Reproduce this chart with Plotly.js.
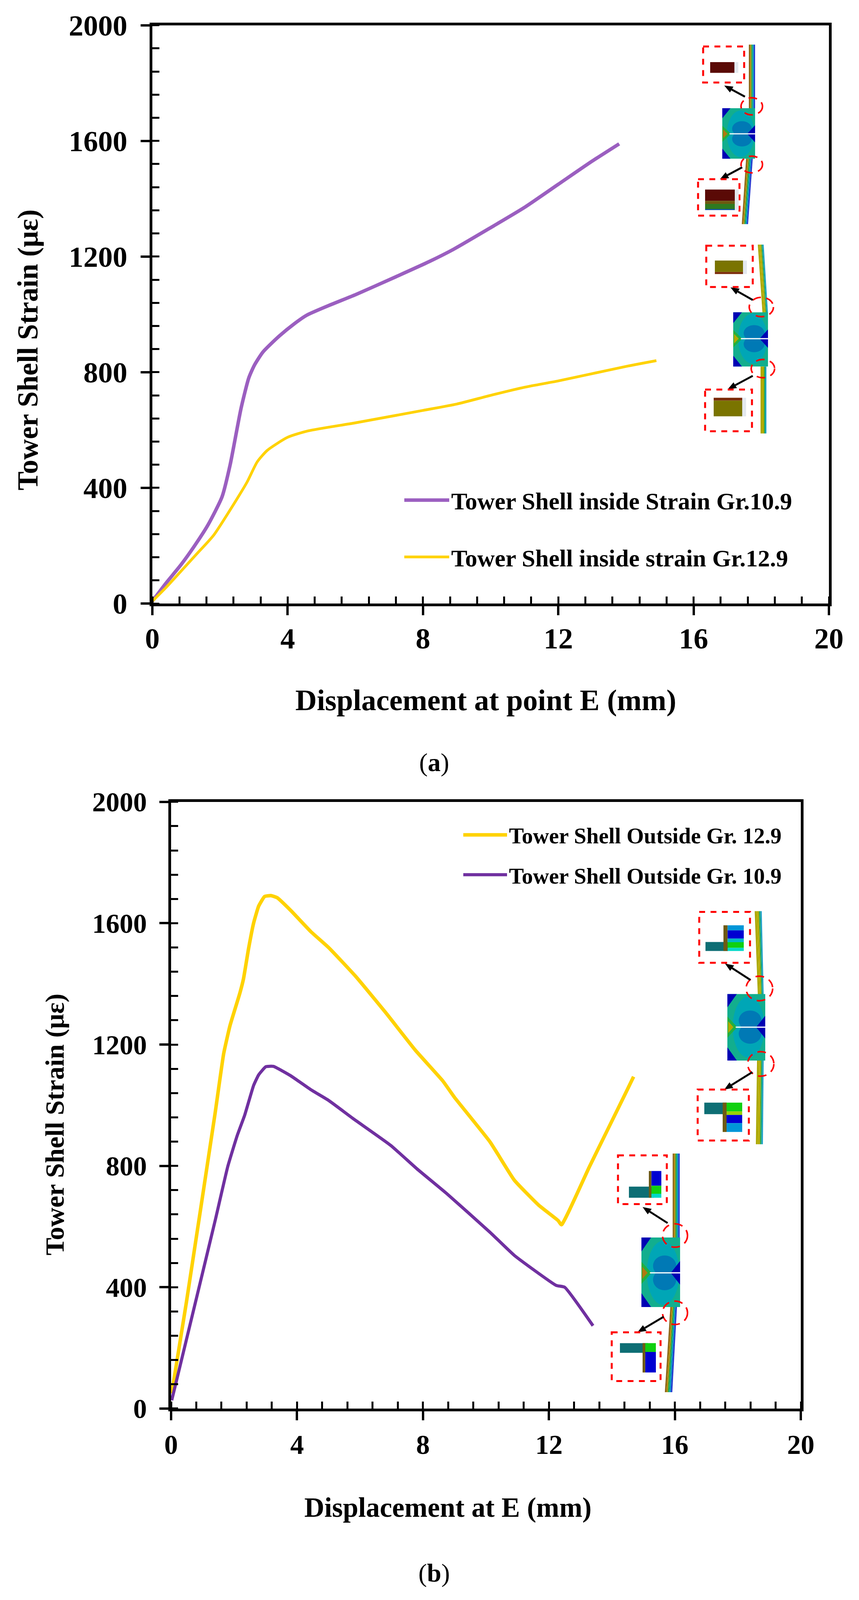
<!DOCTYPE html>
<html>
<head>
<meta charset="utf-8">
<script src="https://cdn.plot.ly/plotly-3.0.1.min.js"></script>
<style>
body { margin: 0; background: #fff; overflow: hidden; }
#chart { width: 2199px; }
</style>
</head>
<body>
<div id="chart"></div>
<script>
// panel (a): tower shell inside strain
let insideX109 = [0, 0.4, 0.84, 1.25, 1.65, 2.06, 2.3, 2.62, 2.85, 3.02, 3.27, 3.75, 4.2, 4.56, 5.2, 6.02, 7.1, 8.19, 8.9, 10, 11, 12, 13, 13.8];
let insideY109 = [8, 70, 133, 200, 273, 369, 480, 674, 780, 825, 870, 925, 968, 997, 1030, 1069, 1125, 1183, 1225, 1300, 1370, 1450, 1530, 1590];
let insideX129 = [0, 0.4, 0.84, 1.3, 1.81, 2.46, 2.8, 3.1, 3.4, 4, 4.6, 6, 8, 9, 10, 11, 12, 13, 14, 14.9];
let insideY129 = [8, 55, 111, 170, 236, 354, 420, 490, 530, 575, 597, 625, 668, 690, 720, 748, 770, 795, 820, 840];

// panel (b): tower shell outside strain
let outsideX129 = [0.02, 0.49, 1.39, 1.67, 1.87, 2.18, 2.3, 2.46, 2.62, 2.78, 2.97, 3.17, 3.37, 3.8, 4.44, 5, 5.86, 6.81, 7.76, 8.63, 9, 10.13, 10.9, 11.67, 12.29, 12.4, 13.29, 14.39, 14.69];
let outsideY129 = [50, 353, 968, 1170, 1262, 1368, 1417, 1516, 1600, 1656, 1688, 1691, 1684, 1642, 1572, 1520, 1425, 1306, 1181, 1080, 1026, 879, 753, 671, 620, 606, 798, 1030, 1094];
let outsideX109 = [0.02, 0.78, 1.4, 1.8, 2.1, 2.34, 2.62, 2.78, 3.01, 3.25, 3.8, 4.44, 5, 5.78, 6.97, 7.8, 8.75, 10.13, 10.9, 12.23, 12.5, 13.4];
let outsideY109 = [27, 353, 620, 798, 900, 968, 1065, 1100, 1127, 1128, 1097, 1051, 1016, 956, 868, 791, 709, 581, 505, 406, 400, 273];

let xTickVals = [0, 4, 8, 12, 16, 20];
let yTickVals = [0, 400, 800, 1200, 1600, 2000];

// W, H are the figure's own size; the page may be shorter, so everything goes by fractions of it
let W = 2199, H = 4304;
let pageHeight = Math.min(H, window.innerHeight || H);
let serif = '"Liberation Serif", "Times New Roman", serif';
let purpleA = '#9B5FC0', purpleB = '#7030A0', gold = '#FFD200';

function px(v) { return v / W; }
function py(v) { return 1 - v / H; }

// inset pictures
let shapes = [];

function poly(pts, fill) {
    let d = pts.map((p, i) => (i ? 'L' : 'M') + px(p[0]) + ',' + py(p[1])).join(' ') + ' Z';
    shapes.push({type: 'path', xref: 'paper', yref: 'paper', path: d, fillcolor: fill, line: {width: 0}, layer: 'above'});
}
function box(x0, y0, x1, y1, fill) {
    poly([[x0, y0], [x1, y0], [x1, y1], [x0, y1]], fill);
}
function oval(cx, cy, rx, ry, fill) {
    shapes.push({type: 'circle', xref: 'paper', yref: 'paper', x0: px(cx - rx), x1: px(cx + rx), y0: py(cy - ry), y1: py(cy + ry),
        fillcolor: fill, line: {width: 0}, layer: 'above'});
}
function dashBox(x0, y0, x1, y1) {
    shapes.push({type: 'rect', xref: 'paper', yref: 'paper', x0: px(x0), x1: px(x1), y0: py(y0), y1: py(y1),
        line: {color: '#FF0000', width: 5, dash: '15px,14px'}, layer: 'above'});
}
function dashOval(x0, y0, x1, y1) {
    shapes.push({type: 'circle', xref: 'paper', yref: 'paper', x0: px(x0), x1: px(x1), y0: py(y0), y1: py(y1),
        line: {color: '#FF0000', width: 4, dash: '22px,14px'}, layer: 'above'});
}
function arrow(x0, y0, x1, y1) {
    let a = Math.atan2(y1 - y0, x1 - x0), c = Math.cos(a), s = Math.sin(a);
    let bx = x1 - 22 * c, by = y1 - 22 * s;
    shapes.push({type: 'line', xref: 'paper', yref: 'paper', x0: px(x0), x1: px(bx), y0: py(y0), y1: py(by),
        line: {color: '#000', width: 5}, layer: 'above'});
    poly([[x1, y1], [bx - 9 * s, by + 9 * c], [bx + 9 * s, by - 9 * c]], '#000');
}
function tower(xt0, xt1, yt, xb0, xb1, yb, colors) {
    let n = colors.length;
    colors.forEach((col, i) => {
        poly([[xt0 + (xt1 - xt0) * i / n, yt], [xt0 + (xt1 - xt0) * (i + 1) / n, yt],
              [xb0 + (xb1 - xb0) * (i + 1) / n, yb], [xb0 + (xb1 - xb0) * i / n, yb]], col);
    });
}
function flange(x0, x1, y0, mid, y1, hot) {
    let w = x1 - x0;
    box(x0, y0, x1, y1, '#12AE8E');
    oval(x0 + 0.56 * w, mid, 0.42 * w, 0.46 * (y1 - y0), '#00A6B6');
    oval(x0 + 0.6 * w, mid - 0.1 * (y1 - y0), 0.3 * w, 0.15 * (y1 - y0), '#0079B5');
    oval(x0 + 0.6 * w, mid + 0.1 * (y1 - y0), 0.3 * w, 0.15 * (y1 - y0), '#0079B5');
    poly([[x0, y0], [x0 + 0.25 * w, y0], [x0, y0 + 0.2 * (y1 - y0)]], '#0000B4');
    poly([[x0, y1], [x0 + 0.25 * w, y1], [x0, y1 - 0.2 * (y1 - y0)]], '#0000B4');
    poly([[x1, mid], [x1, mid - 0.17 * (y1 - y0)], [x1 - 0.24 * w, mid]], '#0000B4');
    poly([[x1, mid], [x1, mid + 0.17 * (y1 - y0)], [x1 - 0.24 * w, mid]], '#0000B4');
    poly([[x0, mid - 0.16 * (y1 - y0)], [x0 + 0.26 * w, mid], [x0, mid + 0.16 * (y1 - y0)]], '#22B040');
    poly([[x0 + 2, mid - 0.09 * (y1 - y0)], [x0 + 0.16 * w, mid], [x0 + 2, mid + 0.09 * (y1 - y0)]], hot);
    box(x0 + 0.22 * w, mid - 1.5, x1, mid + 1.5, '#FFFFFF');
}
function barPiece(x0, y0, x1, y1, bands) {
    let h = y1 - y0, at = y0;
    bands.forEach(b => {
        box(x0, at, x1, at + b[1] * h, b[0]);
        at += b[1] * h;
    });
    box(x1, y0, x1 + 10, y1, '#E3E8EE');
}
function lPiece(hx0, hy0, hx1, hy1, vx0, vy0, vx1, vy1, bands) {
    box(hx0, hy0, hx1, hy1, '#0E6E74');
    let h = vy1 - vy0, at = vy0;
    bands.forEach(b => {
        box(vx0 + 0.2 * (vx1 - vx0), at, vx1, at + b[1] * h, b[0]);
        at += b[1] * h;
    });
    box(vx0, vy0, vx0 + 0.2 * (vx1 - vx0), vy1, '#6E5A14');
}

let brownTower = ['#8C6414', '#B08C08', '#20A848', '#0096C0', '#2238D0'];
let oliveTower = ['#A8A400', '#B4AC00', '#B0A800', '#20A860', '#1CA0C8'];
let blueBands = [['#0096D8', 0.2], ['#0000D2', 0.32], ['#00B8C8', 0.14], ['#10D010', 0.22], ['#00D8C8', 0.12]];
let greenBands = [['#10D010', 0.3], ['#98D000', 0.12], ['#0000D2', 0.28], ['#0096D8', 0.3]];

// panel (a) top group
tower(1917, 1933, 120, 1917, 1933, 292, brownTower);
flange(1849, 1933, 291, 360, 427, '#B07810');
tower(1910, 1927, 427, 1899, 1915, 603, brownTower);
dashBox(1800, 125, 1905, 222);
barPiece(1818, 167, 1880, 196, [['#5A0A06', 1]]);
dashOval(1897, 263, 1952, 309);
arrow(1907, 260, 1854, 230);
dashOval(1897, 420, 1952, 465);
arrow(1900, 450, 1843, 482);
dashBox(1787, 482, 1893, 580);
barPiece(1805, 510, 1881, 565, [['#5A0A06', 0.55], ['#6E5A10', 0.15], ['#2E7A20', 0.25], ['#0A50A0', 0.05]]);

// panel (a) lower group
tower(1940, 1955, 658, 1952, 1966, 842, oliveTower);
flange(1877, 1966, 840, 911, 986, '#B0A800');
tower(1947, 1962, 986, 1947, 1962, 1166, oliveTower);
dashBox(1808, 661, 1927, 772);
barPiece(1830, 701, 1902, 737, [['#7A7400', 0.85], ['#7A2A08', 0.15]]);
dashOval(1918, 800, 1980, 852);
arrow(1927, 807, 1870, 773);
dashOval(1923, 967, 1983, 1016);
arrow(1927, 1011, 1863, 1047);
dashBox(1805, 1048, 1925, 1160);
barPiece(1827, 1070, 1900, 1120, [['#7A2A08', 0.15], ['#7A7400', 0.85]]);

// panel (b) upper group
tower(1932, 1950, 2451, 1940, 1955, 2675, oliveTower);
flange(1862, 1959, 2674, 2763, 2853, '#B0A800');
tower(1938, 1955, 2853, 1935, 1953, 3078, oliveTower);
dashBox(1790, 2453, 1920, 2590);
lPiece(1806, 2534, 1864, 2558, 1852, 2489, 1904, 2558, blueBands);
dashOval(1910, 2626, 1978, 2692);
arrow(1921, 2636, 1856, 2592);
dashOval(1914, 2829, 1981, 2895);
arrow(1926, 2884, 1854, 2931);
dashBox(1786, 2931, 1917, 3068);
lPiece(1803, 2966, 1860, 2997, 1850, 2966, 1900, 3045, greenBands);

// panel (b) lower group
tower(1722, 1740, 3103, 1722, 1740, 3330, brownTower);
flange(1642, 1741, 3329, 3424, 3516, '#B07810');
tower(1716, 1733, 3516, 1702, 1721, 3745, brownTower);
dashBox(1582, 3108, 1707, 3239);
lPiece(1610, 3192, 1674, 3222, 1661, 3150, 1693, 3222, [['#0000D2', 0.55], ['#10D010', 0.3], ['#00D8C8', 0.15]]);
dashOval(1696, 3292, 1760, 3355);
arrow(1709, 3290, 1645, 3247);
dashOval(1696, 3500, 1760, 3563);
arrow(1699, 3542, 1632, 3584);
dashBox(1566, 3584, 1691, 3715);
lPiece(1587, 3613, 1659, 3639, 1645, 3613, 1679, 3692, [['#10D010', 0.3], ['#0000D2', 0.7]]);

let traces = [
    {x: insideX109, y: insideY109, name: 'Tower Shell inside Strain Gr.10.9', legend: 'legend', legendgroup: 'a1',
        mode: 'lines', line: {color: purpleA, width: 9, shape: 'spline', smoothing: 0.6}},
    {x: insideX129, y: insideY129, name: 'Tower Shell inside strain Gr.12.9', legend: 'legend', legendgroup: 'a2',
        mode: 'lines', line: {color: gold, width: 7, shape: 'spline', smoothing: 0.6}},
    {x: outsideX129, y: outsideY129, name: 'Tower Shell Outside Gr. 12.9', xaxis: 'x2', yaxis: 'y2', legend: 'legend2', legendgroup: 'b1',
        mode: 'lines', line: {color: gold, width: 9, shape: 'spline', smoothing: 0.4}},
    {x: outsideX109, y: outsideY109, name: 'Tower Shell Outside Gr. 10.9', xaxis: 'x2', yaxis: 'y2', legend: 'legend2', legendgroup: 'b2',
        mode: 'lines', line: {color: purpleB, width: 8, shape: 'spline', smoothing: 0.4}}
];

function legendBox(x, y, size, gap, item) {
    return {x: px(x), y: py(y), xanchor: 'left', yanchor: 'top', bgcolor: 'rgba(0,0,0,0)', borderwidth: 0,
        font: {family: serif, size: size, color: '#000', weight: 'bold'}, itemwidth: item, tracegroupgap: gap};
}

function xAxis(x0, x1, anchor, size, standoff) {
    return {domain: [px(x0), px(x1)], anchor: anchor, range: [0, 20], tickmode: 'array', tickvals: xTickVals, ticktext: xTickVals.map(String),
        ticks: 'outside', ticklen: 23, tickwidth: 6, tickcolor: '#000', ticklabelstandoff: standoff,
        tickfont: {family: serif, size: size, color: '#000', weight: 'bold'},
        minor: {dtick: 0.8, tick0: 0, ticks: 'inside', ticklen: 18, tickwidth: 5, tickcolor: '#000', showgrid: false},
        showgrid: false, zeroline: false, showline: true, mirror: true, linewidth: 7, linecolor: '#000'};
}
function yAxis(y0, y1, anchor, size, standoff) {
    return {domain: [py(y1), py(y0)], anchor: anchor, range: [0, 2000], tickmode: 'array', tickvals: yTickVals, ticktext: yTickVals.map(String),
        ticks: 'outside', ticklen: 23, tickwidth: 6, tickcolor: '#000', ticklabelstandoff: standoff,
        tickfont: {family: serif, size: size, color: '#000', weight: 'bold'},
        minor: {dtick: 80, tick0: 0, ticks: 'inside', ticklen: 18, tickwidth: 5, tickcolor: '#000', showgrid: false},
        showgrid: false, zeroline: false, showline: true, mirror: true, linewidth: 7, linecolor: '#000'};
}
// second set of axes only puts the inner half of the crossing major ticks
function xInner(over, anchor) {
    return {overlaying: over, anchor: anchor, range: [0, 20], tickmode: 'array', tickvals: xTickVals, ticks: 'inside', ticklen: 23, tickwidth: 6,
        tickcolor: '#000', showticklabels: false, showgrid: false, zeroline: false, showline: false};
}
function yInner(over, anchor) {
    return {overlaying: over, anchor: anchor, range: [0, 2000], tickmode: 'array', tickvals: yTickVals, ticks: 'inside', ticklen: 23, tickwidth: 6,
        tickcolor: '#000', showticklabels: false, showgrid: false, zeroline: false, showline: false};
}

function label(text, x, y, size, angle) {
    return {text: text, xref: 'paper', yref: 'paper', x: px(x), y: py(y), xanchor: 'center', yanchor: 'middle', showarrow: false,
        textangle: angle || 0, font: {family: serif, size: size, color: '#000', weight: 'bold'}};
}

let layout = {
    width: W, height: pageHeight,
    margin: {l: 0, r: 0, t: 0, b: 0},
    paper_bgcolor: '#fff', plot_bgcolor: '#fff',
    showlegend: true,
    xaxis: xAxis(390, 2122, 'y', 75, -5),
    yaxis: yAxis(68, 1623.5, 'x', 75, 19),
    xaxis2: xAxis(438, 2050, 'y2', 70, 2),
    yaxis2: yAxis(2157, 3789, 'x2', 70, 18),
    xaxis3: xInner('x', 'y'),
    yaxis3: yInner('y', 'x'),
    xaxis4: xInner('x2', 'y2'),
    yaxis4: yInner('y2', 'x2'),
    legend: legendBox(1030, 1296, 62, 62, 115),
    legend2: legendBox(1181, 2200, 57, 25, 112),
    shapes: shapes,
    annotations: [
        label('Tower Shell Strain (με)', 72, 941, 73, -90),
        label('Displacement at point E (mm)', 1243, 1884, 76),
        label('Tower Shell Strain (με)', 140, 3025, 68, -90),
        label('Displacement at E (mm)', 1146, 4055, 71),
        {text: '(<b>a</b>)', xref: 'paper', yref: 'paper', x: px(1111), y: py(2051), xanchor: 'center', yanchor: 'middle', showarrow: false,
            font: {family: serif, size: 66, color: '#000'}},
        {text: '(<b>b</b>)', xref: 'paper', yref: 'paper', x: px(1111), y: py(4231), xanchor: 'center', yanchor: 'middle', showarrow: false,
            font: {family: serif, size: 66, color: '#000'}}
    ]
};

Plotly.newPlot('chart', traces, layout, {displayModeBar: false, responsive: false});
</script>
</body>
</html>
